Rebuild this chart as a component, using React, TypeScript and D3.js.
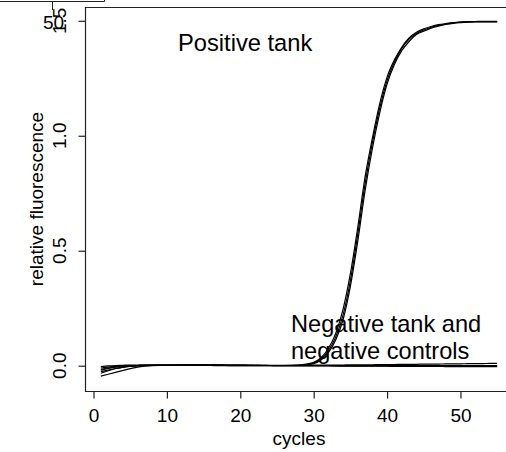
import React, { useEffect, useRef } from 'react';
import * as d3 from 'd3';

// cycles 1..55
const cycles = d3.range(1, 56);

// positive tank runs (relative fluorescence per cycle)
const positiveA = [
  -0.020, -0.012, -0.006, -0.003, -0.001, 0.000, 0.001, 0.002, 0.002, 0.002,
  0.002, 0.002, 0.003, 0.003, 0.003, 0.003, 0.002, 0.002, 0.002, 0.002,
  0.002, 0.002, 0.001, 0.001, 0.001, 0.001, 0.001, 0.002, 0.005, 0.012,
  0.030, 0.065, 0.125, 0.220, 0.370, 0.570, 0.790, 0.970, 1.120, 1.240,
  1.320, 1.380, 1.420, 1.445, 1.460, 1.472, 1.480, 1.486, 1.490, 1.494,
  1.496, 1.497, 1.498, 1.498, 1.498,
];
const positiveB = [
  -0.033, -0.022, -0.012, -0.006, -0.002, 0.000, 0.001, 0.001, 0.002, 0.002,
  0.002, 0.002, 0.002, 0.003, 0.003, 0.003, 0.003, 0.002, 0.002, 0.002,
  0.002, 0.001, 0.001, 0.001, 0.001, 0.001, 0.002, 0.003, 0.007, 0.015,
  0.035, 0.075, 0.140, 0.245, 0.400, 0.600, 0.820, 0.990, 1.140, 1.255,
  1.330, 1.385, 1.425, 1.450, 1.465, 1.475, 1.483, 1.488, 1.492, 1.494,
  1.495, 1.496, 1.496, 1.496, 1.496,
];
const positiveC = [
  -0.010, -0.006, -0.003, -0.001, 0.000, 0.001, 0.001, 0.002, 0.002, 0.002,
  0.003, 0.003, 0.003, 0.003, 0.003, 0.002, 0.002, 0.002, 0.002, 0.002,
  0.001, 0.001, 0.001, 0.001, 0.001, 0.001, 0.001, 0.002, 0.004, 0.009,
  0.025, 0.057, 0.112, 0.200, 0.345, 0.540, 0.760, 0.945, 1.100, 1.225,
  1.310, 1.370, 1.410, 1.440, 1.455, 1.468, 1.477, 1.484, 1.489, 1.492,
  1.494, 1.495, 1.495, 1.495, 1.495,
];

// negative tank and negative controls
const negativeA = [
  -0.004, -0.001, 0.001, 0.002, 0.003, 0.003, 0.004, 0.004, 0.004, 0.004,
  0.004, 0.004, 0.004, 0.004, 0.004, 0.004, 0.004, 0.003, 0.003, 0.003,
  0.003, 0.003, 0.003, 0.002, 0.002, 0.002, 0.002, 0.002, 0.002, 0.003,
  0.003, 0.003, 0.003, 0.003, 0.004, 0.004, 0.004, 0.004, 0.005, 0.005,
  0.005, 0.006, 0.006, 0.006, 0.007, 0.007, 0.007, 0.008, 0.008, 0.008,
  0.009, 0.009, 0.009, 0.010, 0.010,
];
const negativeB = [
  -0.016, -0.010, -0.005, -0.002, 0.000, 0.001, 0.002, 0.002, 0.002, 0.002,
  0.002, 0.002, 0.002, 0.002, 0.002, 0.002, 0.002, 0.002, 0.002, 0.002,
  0.001, 0.001, 0.001, 0.001, 0.001, 0.001, 0.001, 0.001, 0.001, 0.001,
  0.001, 0.001, 0.001, 0.001, 0.001, 0.001, 0.001, 0.001, 0.001, 0.001,
  0.001, 0.001, 0.001, 0.001, 0.001, 0.001, 0.001, 0.001, 0.001, 0.001,
  0.001, 0.001, 0.001, 0.001, 0.001,
];
const negativeC = [
  -0.026, -0.019, -0.012, -0.007, -0.003, -0.001, 0.000, 0.001, 0.001, 0.001,
  0.001, 0.001, 0.001, 0.001, 0.001, 0.001, 0.001, 0.001, 0.000, 0.000,
  0.000, 0.000, 0.000, 0.000, 0.000, 0.000, 0.000, 0.000, 0.000, 0.000,
  0.000, 0.000, -0.001, -0.001, -0.001, -0.001, -0.001, -0.001, -0.001, -0.001,
  -0.001, -0.001, -0.001, -0.001, -0.002, -0.002, -0.002, -0.002, -0.002, -0.002,
  -0.002, -0.002, -0.002, -0.002, -0.002,
];
const negativeD = [
  -0.045, -0.037, -0.029, -0.021, -0.013, -0.006, -0.002, 0.000, 0.001, 0.001,
  0.001, 0.001, 0.001, 0.001, 0.001, 0.001, 0.000, 0.000, 0.000, 0.000,
  0.000, 0.000, 0.000, 0.000, -0.001, -0.001, -0.001, -0.001, -0.001, -0.001,
  -0.001, -0.001, -0.001, -0.002, -0.002, -0.002, -0.002, -0.002, -0.002, -0.002,
  -0.003, -0.003, -0.003, -0.003, -0.003, -0.003, -0.003, -0.004, -0.004, -0.004,
  -0.004, -0.004, -0.004, -0.004, -0.004,
];

const series = [positiveA, positiveB, positiveC, negativeA, negativeB, negativeC, negativeD];

const xTicks = [0, 10, 20, 30, 40, 50];
const yTicks = [0, 0.5, 1.0, 1.5];

const FONT = '"Liberation Sans", Arial, Helvetica, sans-serif';

const App = () => {
  const svgRef = useRef<SVGSVGElement>(null);

  useEffect(() => {
    const width = 506;
    const height = 452;
    const svg = d3.select(svgRef.current);
    svg.selectAll('*').remove();

    const left = 85, top = 7, bottom = 391, right = 513;

    const x = d3.scaleLinear().domain([-1.16, 57.16]).range([left, right]);
    const y = d3.scaleLinear().domain([-0.11, 1.56]).range([bottom, top]);

    svg.append('rect').attr('width', width).attr('height', height).attr('fill', '#fff');

    // stray frame bits from a neighbouring panel
    svg.append('path')
      .attr('d', 'M0,1.5H104.5V-2 M52.5,1.5V10')
      .attr('fill', 'none')
      .attr('stroke', '#222')
      .attr('stroke-width', 1);
    svg.append('text')
      .attr('x', 43).attr('y', 29)
      .attr('font-family', FONT).attr('font-size', 19)
      .text('50');

    const line = d3.line<number>()
      .x((_, i) => x(cycles[i]))
      .y(d => y(d))
      .curve(d3.curveMonotoneX);

    svg.append('g')
      .selectAll('path')
      .data(series)
      .enter()
      .append('path')
      .attr('d', d => line(d))
      .attr('fill', 'none')
      .attr('stroke', '#000')
      .attr('stroke-width', 1.2);

    // box (right side falls outside the picture)
    svg.append('path')
      .attr('d', `M${width},${top + 0.5}H${left + 0.5}V${bottom + 0.5}H${width}`)
      .attr('fill', 'none')
      .attr('stroke', '#222')
      .attr('stroke-width', 1.2);

    // x axis
    const xa = svg.append('g').attr('transform', `translate(0,${bottom + 0.5})`);
    xa.call(d3.axisBottom(x).tickValues(xTicks).tickSize(7).tickPadding(10).tickFormat(d3.format('d')))
      .call(g => g.select('.domain').remove())
      .call(g => g.selectAll('line').attr('stroke', '#222').attr('stroke-width', 1.2))
      .call(g => g.selectAll('text')
        .attr('fill', '#000')
        .attr('font-family', FONT)
        .attr('font-size', 19));

    // y axis
    const ya = svg.append('g').attr('transform', `translate(${left + 0.5},0)`);
    ya.call(d3.axisLeft(y).tickValues(yTicks).tickSize(7).tickFormat(d3.format('.1f')))
      .call(g => g.select('.domain').remove())
      .call(g => g.selectAll('line').attr('stroke', '#222').attr('stroke-width', 1.2))
      .call(g => g.selectAll('text').remove());
    svg.append('g')
      .selectAll('text')
      .data(yTicks)
      .enter()
      .append('text')
      .attr('transform', d => `translate(66,${y(d)}) rotate(-90)`)
      .attr('text-anchor', 'middle')
      .attr('font-family', FONT)
      .attr('font-size', 19)
      .text(d => d3.format('.1f')(d));

    // axis titles
    svg.append('text')
      .attr('x', (left + right) / 2)
      .attr('y', 445)
      .attr('text-anchor', 'middle')
      .attr('font-family', FONT)
      .attr('font-size', 19)
      .text('cycles');
    svg.append('text')
      .attr('transform', `translate(43,${(top + bottom) / 2}) rotate(-90)`)
      .attr('text-anchor', 'middle')
      .attr('font-family', FONT)
      .attr('font-size', 19)
      .text('relative fluorescence');

    // annotations
    svg.append('text')
      .attr('x', 178).attr('y', 51)
      .attr('font-family', FONT).attr('font-size', 23.7)
      .text('Positive tank');
    svg.append('text')
      .attr('x', 291).attr('y', 332)
      .attr('font-family', FONT).attr('font-size', 23.6)
      .text('Negative tank and');
    svg.append('text')
      .attr('x', 291).attr('y', 359)
      .attr('font-family', FONT).attr('font-size', 23.6)
      .text('negative controls');
  }, []);

  return (
    <svg
      ref={svgRef}
      width={506}
      height={452}
      style={{ position: 'absolute', left: 0, top: 0, display: 'block' }}
    />
  );
};

export default App;
